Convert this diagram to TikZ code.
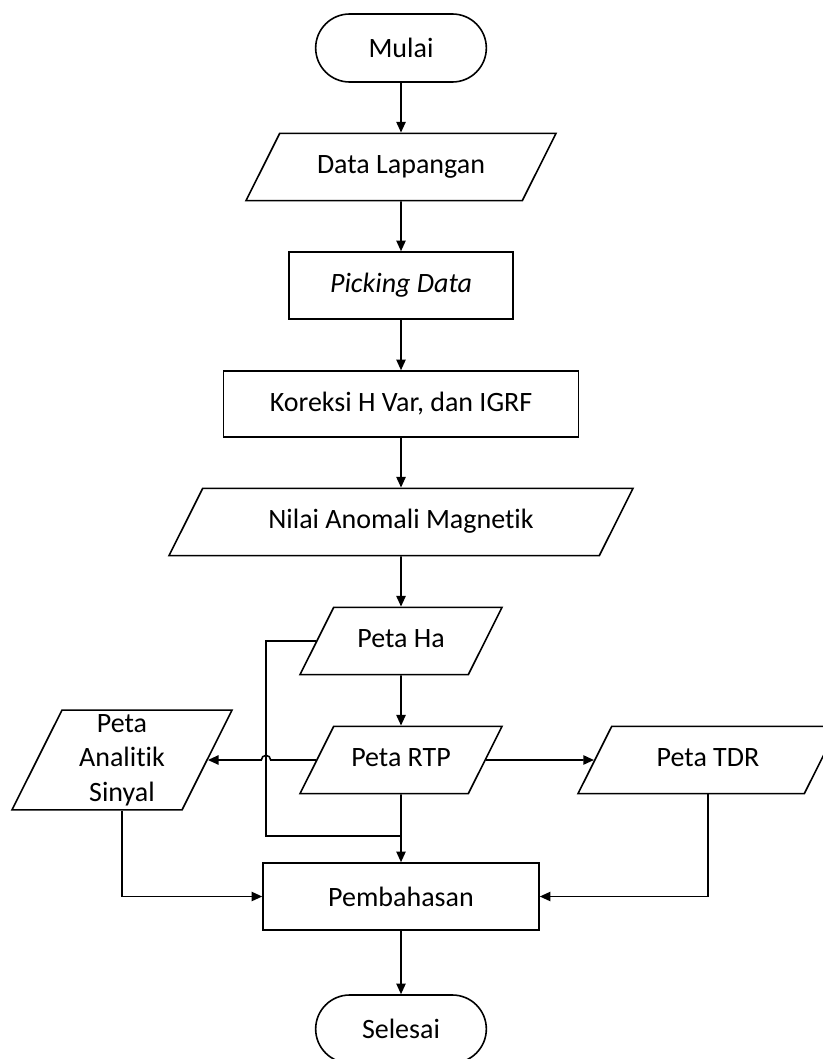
\documentclass[tikz,border=0pt]{standalone}
\usepackage{fontspec}
\setmainfont{Carlito}[Ligatures=CommonOff]
\usetikzlibrary{arrows.meta,shapes.geometric,shapes.misc}

\begin{document}
\begin{tikzpicture}[x=0.75pt,y=-0.75pt,line width=1.2pt,>={Triangle[length=8pt,width=7pt]},
  font=\fontsize{21}{26}\selectfont,
  terminal/.style={draw,rounded rectangle,minimum width=128pt,minimum height=51pt,inner sep=0pt},
  proses/.style={draw,rectangle,minimum height=50.25pt,inner sep=0pt},
  dataio/.style={draw,trapezium,trapezium left angle=63.4,trapezium right angle=116.6,
    trapezium stretches body,inner xsep=0pt,inner ysep=16pt,text height=14pt,text depth=4.5pt,align=center}]
  \useasboundingbox (0,0) rectangle (823,1059);
  \clip (0,0) rectangle (823,1059);
  % alur utama
  \node[terminal] (mulai) at (401,48) {Mulai};
  \node[dataio,minimum width=232.5pt] (lap) at (401,167) {Data Lapangan};
  \node[proses,minimum width=168pt] (pick) at (401,285.5) {\textit{Picking Data}};
  \node[proses,minimum width=266pt,minimum height=49.5pt] (kor) at (401,404) {Koreksi H Var, dan IGRF};
  \node[dataio,minimum width=348pt] (nam) at (401,522) {Nilai Anomali Magnetik};
  \node[dataio,minimum width=151.5pt] (ha) at (401,641) {Peta Ha};
  \node[dataio,minimum width=151.5pt] (rtp) at (401,760) {Peta RTP};
  \node[dataio,minimum width=165pt,text height=,text depth=,inner ysep=3pt] (ana) at (122,760) {Peta\\Analitik\\Sinyal};
  \node[dataio,minimum width=195pt] (tdr) at (708,760) {Peta TDR};
  \node[proses,minimum width=207pt] (pemb) at (401,896.5) {Pembahasan};
  \node[terminal] (sel) at (401,1029) {Selesai};
  \coordinate (loop) at (266,836);
  \coordinate (hop) at (266,760);
  \draw[->] (mulai) -- (lap);
  \draw[->] (lap) -- (pick);
  \draw[->] (pick) -- (kor);
  \draw[->] (kor) -- (nam);
  \draw[->] (nam) -- (ha);
  \draw[->] (ha) -- (rtp);
  \draw[->] (rtp) -- (pemb);
  \draw[->] (pemb) -- (sel);
  % cabang peta
  \draw (ha.west) -| (loop) -- (loop -| rtp.south);
  \draw[->] (rtp.west) -- ([xshift=3.5pt]hop) arc[start angle=0,end angle=180,radius=3.5pt] -- (ana.east);
  \draw[->] (rtp.east) -- (tdr.west);
  \draw[->] (ana.south) |- (pemb.west);
  \draw[->] (tdr.south) |- (pemb.east);
\end{tikzpicture}
\end{document}
